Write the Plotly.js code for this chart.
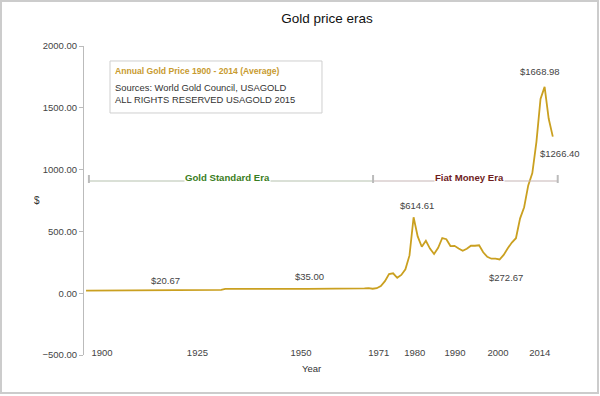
<!DOCTYPE html>
<html>
<head>
<meta charset="utf-8">
<script src="https://cdn.plot.ly/plotly-3.0.1.min.js"></script>
<style>
  html, body { margin: 0; padding: 0; background: #fff; }
  #chart { width: 600px; height: 396px; }
</style>
</head>
<body>
<div id="chart"></div>
<script>
// ---- Data ----
const firstYear = 1900;
const prices = [
  20.67, 20.67, 20.67, 20.67, 20.67, 20.67, 20.67, 20.67, 20.67, 20.67, 20.67,
  20.67, 20.67, 20.67, 20.67, 20.67, 20.67, 20.67, 20.67, 20.67, 20.67, 20.67,
  20.67, 20.67, 20.67, 20.67, 20.67, 20.67, 20.67, 20.67, 20.67, 20.67, 20.67,
  26.33, 34.69,
  35.00, 35.00, 35.00, 35.00, 35.00, 35.00, 35.00, 35.00, 35.00, 35.00, 35.00,
  35.00, 35.00, 35.00, 35.00, 35.00, 35.00, 35.00, 35.00, 35.00, 35.00, 35.00,
  35.00, 35.00, 35.00, 35.00, 35.00, 35.00, 35.00, 35.00, 35.00, 35.00, 35.00,
  39.31, 41.28, 36.02, 40.62, 58.42, 97.39, 154.00, 160.86, 124.74, 147.84,
  193.40, 306.00, 614.61, 459.26, 375.80, 424.00, 360.66, 317.66, 367.66, 446.46,
  436.94, 381.44, 383.51, 362.11, 343.82, 359.77, 384.00, 383.79, 387.81, 331.02,
  294.24, 278.98, 279.11, 272.67, 309.73, 363.38, 409.72, 444.74, 603.46, 695.39,
  871.96, 972.35, 1224.53, 1571.52, 1668.98, 1411.23, 1266.40
];
const years = prices.map((_, i) => firstYear + i);

const tickLabels = ['1900', '1925', '1950', '1971', '1980', '1990', '2000', '2014'];
const tickPositions = [1903.9, 1927.2, 1952.5, 1971.5, 1980.3, 1990.1, 2000.6, 2010.8];

const labelYears = [1920, 1955, 1980, 2001, 2012, 2014];
const labelText = ['$20.67', '$35.00', '$614.61', '$272.67', '$1668.98', '$1266.40'];

const eraNames = ['Gold Standard Era', 'Fiat Money Era'];
const eraStart = [1900.7, 1970.1];
const eraEnd = [1970.1, 2015.2];
const eraLabelYear = [1934.5, 1993.7];

const infoTitle = 'Annual Gold Price 1900 - 2014 (Average)';
const infoLines = ['Sources: World Gold Council, USAGOLD', 'ALL RIGHTS RESERVED USAGOLD 2015'];

// ---- Styles ----
const FONT = 'Liberation Sans, Arial, Helvetica, sans-serif';
const labelShift = [[-2, 10], [-1.5, 12], [3, 12], [6, -18], [-5, 15], [7, -17]];
const eraColors = ['#3a7d22', '#6e1d1d'];
const eraLineColors = ['#b5c1ae', '#c6b5b5'];

function priceAt(y) { return prices[years.indexOf(y)]; }

const annotations = [];
labelYears.forEach((y, i) => {
  annotations.push({
    x: y, y: priceAt(y), xref: 'x', yref: 'y', text: labelText[i],
    showarrow: false, xshift: labelShift[i][0], yshift: labelShift[i][1],
    font: {family: FONT, size: 9.5, color: '#444'}
  });
});

const shapes = [];
const ERA_Y = 0.5631, TICK_Y0 = 0.5566, TICK_Y1 = 0.5825;
eraNames.forEach((name, i) => {
  shapes.push({type: 'line', xref: 'x', yref: 'paper', x0: eraStart[i], x1: eraEnd[i],
    y0: ERA_Y, y1: ERA_Y, line: {color: eraLineColors[i], width: 1}});
  annotations.push({x: eraLabelYear[i], y: 0.5744, xref: 'x', yref: 'paper', text: '<b>' + name + '</b>',
    showarrow: false, bgcolor: '#fff', borderpad: 0, xanchor: 'center', yanchor: 'middle',
    font: {family: FONT, size: 9.6, color: eraColors[i]}});
});
[eraStart[0], eraStart[1], eraEnd[1]].forEach(x => {
  shapes.push({type: 'line', xref: 'x', yref: 'paper', x0: x, x1: x, y0: TICK_Y0, y1: TICK_Y1,
    line: {color: '#bbb', width: 2}});
});

// info box
shapes.push({type: 'rect', xref: 'paper', yref: 'paper', x0: 0.0535, x1: 0.4897, y0: 0.7832, y1: 0.9515,
  line: {color: '#cfcfcf', width: 1}, fillcolor: 'rgba(0,0,0,0)'});
annotations.push({xref: 'paper', yref: 'paper', x: 0.0597, y: 0.919, xanchor: 'left', yanchor: 'middle',
  text: '<b>' + infoTitle + '</b>', showarrow: false,
  font: {family: FONT, size: 8.6, color: '#c89b30'}});
annotations.push({xref: 'paper', yref: 'paper', x: 0.0597, y: 0.8447, xanchor: 'left', yanchor: 'middle',
  align: 'left', text: infoLines.join('<br>'), showarrow: false,
  font: {family: FONT, size: 9.4, color: '#333'}});

// axis titles
annotations.push({xref: 'paper', yref: 'paper', x: -0.0967, y: 0.5016, xanchor: 'center', yanchor: 'middle',
  text: '$', showarrow: false, font: {family: FONT, size: 10, color: '#333'}});
annotations.push({xref: 'paper', yref: 'paper', x: 0.469, y: -0.0453, xanchor: 'center', yanchor: 'middle',
  text: 'Year', showarrow: false, font: {family: FONT, size: 9.5, color: '#333'}});

// outer border
shapes.push({type: 'rect', xref: 'paper', yref: 'paper', x0: -0.1708, x1: 1.0576, y0: -0.123, y1: 1.1456,
  line: {color: '#cccccc', width: 2}, fillcolor: 'rgba(0,0,0,0)'});

const trace = {
  x: years, y: prices, type: 'scatter', mode: 'lines',
  line: {color: '#caa020', width: 1.8},
  hoverinfo: 'x+y'
};

const layout = {
  width: 600, height: 396,
  margin: {l: 84, r: 30, t: 46, b: 41},
  paper_bgcolor: '#fff', plot_bgcolor: '#fff',
  showlegend: false,
  title: {text: 'Gold price eras', x: 0.5, xref: 'paper', y: 0.9545, yanchor: 'middle', xanchor: 'center',
    font: {family: FONT, size: 13.5, color: '#111'}},
  xaxis: {
    range: [1899.5, 2018.2], showgrid: false, zeroline: false, showline: false,
    tickmode: 'array', tickvals: tickPositions, ticktext: tickLabels, ticks: '',
    ticklabelstandoff: -10,
    tickfont: {family: FONT, size: 9.5, color: '#444'}
  },
  yaxis: {
    range: [-500, 2000], dtick: 500, tick0: 0, tickformat: '.2f',
    showgrid: false, zeroline: false, showline: true, linecolor: '#bbb', linewidth: 1,
    ticks: 'outside', ticklen: 4, tickcolor: '#bbb',
    tickfont: {family: FONT, size: 9.5, color: '#444'}
  },
  shapes: shapes,
  annotations: annotations
};

Plotly.newPlot('chart', [trace], layout, {displayModeBar: false, staticPlot: true});
</script>
</body>
</html>
